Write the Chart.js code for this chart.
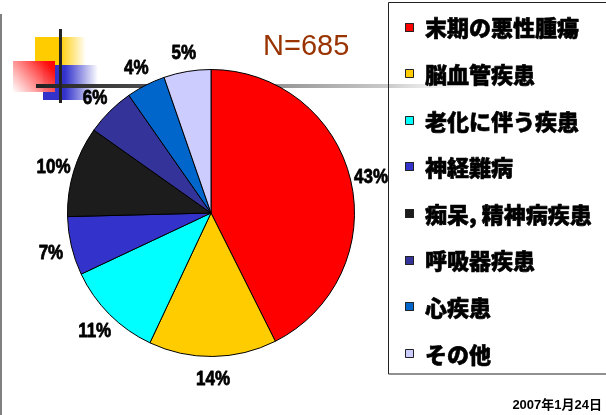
<!DOCTYPE html>
<html><head><meta charset="utf-8">
<script src="https://cdn.jsdelivr.net/npm/chart.js@4/dist/chart.umd.min.js"></script>
<style>html,body{margin:0;padding:0;background:#fff;overflow:hidden}</style>
</head><body>
<canvas id="c" width="606" height="415"></canvas>
<script>
const categories = ['末期の悪性腫瘍','脳血管疾患','老化に伴う疾患','神経難病','痴呆, 精神病疾患','呼吸器疾患','心疾患','その他'];
const shares = [42.6, 14.4, 11.0, 6.6, 10.2, 5.5, 4.4, 5.3];
const percentLabels = ['43%','14%','11%','7%','10%','6%','4%','5%'];
const colors = ['#FF0000','#FFCC00','#00FFFF','#3333CC','#1C1C1C','#333399','#0066CC','#CCCCFF'];
const titleText = 'N=685';
const dateText = '2007年1月24日';

const decoPlugin = {
  id: 'deco',
  beforeDraw(chart) {
    const ctx = chart.ctx;
    ctx.save();
    ctx.fillStyle = '#fff';
    ctx.fillRect(0, 0, chart.width, chart.height);
    ctx.fillStyle = '#808080';
    ctx.fillRect(0, 14, 2, chart.height - 14);
    let g = ctx.createLinearGradient(35, 0, 86, 0);
    g.addColorStop(0, '#FFCC00'); g.addColorStop(0.48, '#FFCC00');
    g.addColorStop(1, 'rgba(255,204,0,0)');
    ctx.fillStyle = g; ctx.fillRect(35, 37, 51, 28);
    g = ctx.createLinearGradient(43, 0, 98, 0);
    g.addColorStop(0, '#3333CC'); g.addColorStop(0.4, '#3333CC');
    g.addColorStop(1, 'rgba(51,51,204,0)');
    ctx.fillStyle = g; ctx.fillRect(43, 65, 55, 35);
    g = ctx.createLinearGradient(55, 61, 15, 95);
    g.addColorStop(0, '#FF0000'); g.addColorStop(0.15, '#FF1010');
    g.addColorStop(1, 'rgba(255,255,255,0.9)');
    ctx.fillStyle = g; ctx.fillRect(13, 61, 42, 31);
    g = ctx.createLinearGradient(36, 0, 490, 0);
    g.addColorStop(0, '#222'); g.addColorStop(0.2, '#444');
    g.addColorStop(0.55, '#999'); g.addColorStop(0.78, '#ccc');
    g.addColorStop(1, 'rgba(255,255,255,0)');
    ctx.fillStyle = g; ctx.fillRect(36, 84, 454, 4);
    ctx.fillStyle = '#222';
    ctx.fillRect(59, 29, 3, 74);
    ctx.restore();
  }
};

const labelPlugin = {
  id: 'labels',
  afterDatasetsDraw(chart) {
    const ctx = chart.ctx;
    const meta = chart.getDatasetMeta(0);
    ctx.save();
    ctx.fillStyle = '#000';
    ctx.strokeStyle = '#000';
    ctx.lineJoin = 'round';
    ctx.textAlign = 'center';
    ctx.textBaseline = 'middle';
    ctx.font = 'bold 21px "Liberation Sans", Arial, sans-serif';
    meta.data.forEach((arc, i) => {
      const p = arc.getProps(['x','y','startAngle','endAngle','outerRadius'], true);
      const mid = (p.startAngle + p.endAngle) / 2;
      const r = p.outerRadius + 21;
      const lx = p.x + Math.cos(mid) * r;
      const ly = p.y + Math.sin(mid) * r;
      ctx.save();
      ctx.translate(lx, ly + 2);
      ctx.scale(0.81, 1);
      ctx.lineWidth = 0.8;
      ctx.fillText(percentLabels[i], 0, 0);
      ctx.strokeText(percentLabels[i], 0, 0);
      ctx.restore();
    });
    ctx.textAlign = 'left';
    ctx.textBaseline = 'alphabetic';
    ctx.fillStyle = '#993300';
    ctx.font = '29px "Liberation Sans", Arial, sans-serif';
    ctx.fillText(titleText, 263, 55);
    ctx.strokeStyle = '#222';
    ctx.lineWidth = 1;
    ctx.strokeRect(388.5, 2.5, 300, 371.5);
    ctx.font = '900 22px "Noto Sans CJK JP", sans-serif';
    ctx.textBaseline = 'middle';
    categories.forEach((name, i) => {
      const cy = 27 + i * 46.6;
      ctx.fillStyle = colors[i];
      ctx.fillRect(405, Math.round(cy - 4.5), 9, 9);
      ctx.strokeStyle = '#222';
      ctx.lineWidth = 1;
      ctx.strokeRect(405.5, Math.round(cy - 4.5) + 0.5, 8, 8);
      ctx.fillStyle = '#000';
      ctx.strokeStyle = '#000';
      ctx.lineWidth = 0.6;
      ctx.fillText(name, 425, cy + 1);
      ctx.strokeText(name, 425, cy + 1);
    });
    ctx.textAlign = 'right';
    ctx.textBaseline = 'alphabetic';
    ctx.fillStyle = '#000';
    ctx.font = 'bold 13px "Liberation Sans", "Noto Sans CJK JP", sans-serif';
    ctx.fillText(dateText, 602, 409);
    ctx.restore();
  }
};

new Chart(document.getElementById('c'), {
  type: 'pie',
  data: {
    labels: categories,
    datasets: [{
      data: shares,
      backgroundColor: colors,
      borderColor: '#000',
      borderWidth: 1
    }]
  },
  options: {
    responsive: false,
    animation: false,
    events: [],
    layout: { padding: { left: 67, top: 69, right: 251, bottom: 58 } },
    plugins: { legend: { display: false }, tooltip: { enabled: false } }
  },
  plugins: [decoPlugin, labelPlugin]
});
</script>
</body></html>
